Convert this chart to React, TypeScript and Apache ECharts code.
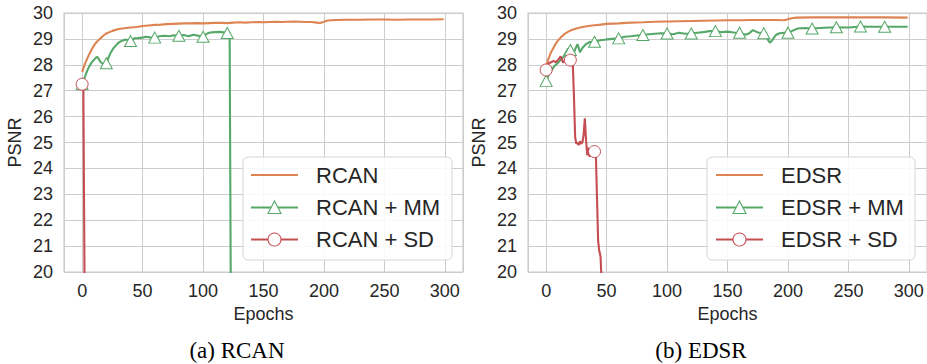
import React, { useEffect, useRef } from "react";
import * as echarts from "echarts";

// ---- data: [epoch, PSNR] ----
const rcanCurve: [number, number][] = [
  [0, 27.73], [2, 28.0], [4, 28.22], [6, 28.42], [8, 28.6], [10, 28.76], [12, 28.88], [15, 29.02], [18, 29.14],
  [20, 29.21], [25, 29.31], [30, 29.38], [35, 29.41], [40, 29.44], [45, 29.46], [50, 29.5], [55, 29.52], [60, 29.54],
  [65, 29.55], [70, 29.57], [75, 29.58], [80, 29.59], [85, 29.6], [90, 29.6], [95, 29.61], [100, 29.6], [105, 29.61],
  [110, 29.62], [115, 29.62], [120, 29.61], [125, 29.63], [130, 29.64], [135, 29.63], [140, 29.64], [145, 29.65],
  [150, 29.64], [155, 29.65], [160, 29.66], [165, 29.65], [170, 29.66], [175, 29.67], [180, 29.66], [185, 29.65],
  [190, 29.65], [194, 29.63], [197, 29.61], [200, 29.66], [203, 29.71], [206, 29.72], [210, 29.73], [220, 29.74],
  [230, 29.74], [240, 29.75], [250, 29.75], [260, 29.74], [270, 29.75], [280, 29.75], [290, 29.75], [299, 29.76],
];
const rcanMmCurve: [number, number][] = [
  [0, 27.25], [2, 27.5], [4, 27.75], [6, 27.95], [8, 28.1], [10, 28.2], [12, 28.3], [13, 28.28], [15, 28.12],
  [17, 28.04], [20, 28.06], [22, 28.3], [24, 28.5], [26, 28.65], [28, 28.75], [30, 28.85], [33, 28.93], [36, 28.98],
  [38, 28.95], [40, 28.92], [43, 29.02], [46, 29.03], [50, 29.05], [53, 29.08], [56, 29.06], [60, 29.05], [64, 29.1],
  [68, 29.12], [72, 29.1], [76, 29.14], [80, 29.12], [84, 29.15], [88, 29.1], [92, 29.16], [96, 29.12], [100, 29.08],
  [103, 29.2], [106, 29.25], [110, 29.26], [114, 29.27], [118, 29.25], [120, 29.23], [122, 29.25], [124, 8],
];
const rcanSdCurve: [number, number][] = [[0, 27.25], [1, 27.1], [2, 19.5], [3, 12]];

const edsrCurve: [number, number][] = [
  [0, 27.95], [2, 28.25], [4, 28.48], [6, 28.65], [8, 28.82], [10, 28.95], [12, 29.05], [15, 29.18], [18, 29.27],
  [20, 29.32], [25, 29.4], [30, 29.46], [35, 29.5], [40, 29.53], [45, 29.55], [50, 29.58], [60, 29.6], [70, 29.63],
  [80, 29.64], [90, 29.66], [100, 29.67], [110, 29.68], [120, 29.69], [130, 29.7], [140, 29.71], [150, 29.72],
  [160, 29.72], [170, 29.73], [180, 29.73], [190, 29.73], [197, 29.72], [200, 29.76], [203, 29.8], [207, 29.82],
  [220, 29.83], [240, 29.83], [260, 29.83], [280, 29.83], [299, 29.82],
];
const edsrMmCurve: [number, number][] = [
  [0, 27.38], [2, 27.6], [4, 27.75], [6, 27.9], [8, 28.0], [10, 28.08], [12, 28.2], [14, 28.28], [16, 28.45],
  [18, 28.62], [20, 28.57], [22, 28.35], [24, 28.6], [26, 28.8], [28, 28.48], [30, 28.65], [33, 28.8], [36, 28.88],
  [40, 28.89], [45, 28.95], [50, 28.98], [55, 29.0], [60, 29.02], [65, 29.08], [70, 29.1], [75, 29.13], [80, 29.15],
  [85, 29.18], [90, 29.2], [95, 29.22], [100, 29.21], [105, 29.18], [110, 29.24], [115, 29.2], [120, 29.21],
  [125, 29.24], [130, 29.26], [135, 29.3], [140, 29.3], [145, 29.26], [150, 29.28], [155, 29.25], [160, 29.24],
  [165, 29.16], [168, 29.22], [171, 29.34], [175, 29.25], [180, 29.22], [183, 29.0], [185, 28.85], [187, 28.95],
  [190, 29.15], [193, 29.22], [197, 29.24], [200, 29.24], [204, 29.32], [208, 29.4], [214, 29.42], [220, 29.4],
  [230, 29.43], [240, 29.45], [250, 29.44], [260, 29.48], [270, 29.47], [280, 29.47], [290, 29.47], [299, 29.47],
];
const edsrSdCurve: [number, number][] = [
  [0, 27.8], [2, 28.05], [4, 28.1], [6, 28.15], [8, 28.1], [10, 28.2], [12, 28.33], [14, 28.08], [16, 28.2],
  [18, 28.12], [20, 28.18], [22, 28.1], [23, 26.8], [24, 25.2], [25, 24.95], [26, 25.0], [27, 24.9], [28, 25.05],
  [29, 24.95], [30, 25.0], [31, 25.3], [32, 25.93], [33, 25.1], [34, 24.5], [35, 24.8], [36, 24.45], [37, 24.7],
  [38, 24.5], [39, 24.8], [40, 24.65], [41, 24.75], [42, 23.0], [43, 21.2], [44, 20.8], [45, 20.6], [46, 19.5], [47, 10],
];

const markerEpochs = [0, 20, 40, 60, 80, 100, 120, 140, 160, 180, 200, 220, 240, 260, 280];
const legendLeft = ["RCAN", "RCAN + MM", "RCAN + SD"];
const legendRight = ["EDSR", "EDSR + MM", "EDSR + SD"];
const captions = ["(a) RCAN", "(b) EDSR"];
const xAxisTitle = "Epochs";
const yAxisTitle = "PSNR";

const ORANGE = "#DD8452";
const GREEN = "#55A868";
const RED = "#C44E52";
const GRID = "#cccccc";
const TEXT = "#262626";
const SANS = '"Liberation Sans", Arial, sans-serif';
const SERIF = '"Liberation Serif", "DejaVu Serif", serif';

const GRIDS = [
  { left: 64, top: 13, width: 399, height: 259 },
  { left: 528, top: 13, width: 399, height: 259 },
];

function buildData(curve: [number, number][], symbol: string | null) {
  return curve.map(([e, v]) => ({
    value: [e, v],
    symbol: symbol && markerEpochs.includes(e) ? symbol : "none",
  }));
}

function lineSeries(g: number, curve: [number, number][], color: string, symbol: string | null, z: number) {
  return {
    type: "line",
    xAxisIndex: g,
    yAxisIndex: g,
    data: buildData(curve, symbol),
    showSymbol: true,
    showAllSymbol: true,
    symbol: "none",
    symbolSize: symbol === "triangle" ? [12, 11] : 12,
    lineStyle: { color, width: 2.1 },
    itemStyle: { color: "#ffffff", borderColor: color, borderWidth: 1 },
    silent: true,
    z,
    emphasis: { disabled: true },
  };
}

function legendGraphic(x: number, w: number, lineX1: number, lineX2: number, textX: number, labels: string[]) {
  const rows = [175, 207.5, 239.5];
  const colors = [ORANGE, GREEN, RED];
  const els: any[] = [
    {
      type: "rect",
      z: 100,
      shape: { x, y: 157, width: w, height: 103, r: 5 },
      style: { fill: "rgba(255,255,255,0.85)", stroke: "#d6d6d6", lineWidth: 1 },
    },
  ];
  const cx = (lineX1 + lineX2) / 2;
  rows.forEach((y, i) => {
    els.push({
      type: "line",
      z: 101,
      shape: { x1: lineX1, y1: y, x2: lineX2, y2: y },
      style: { stroke: colors[i], lineWidth: 2 },
    });
    if (i === 1) {
      els.push({
        type: "polygon",
        z: 102,
        shape: { points: [[cx - 6.5, y + 6], [cx, y - 6.5], [cx + 6.5, y + 6]] },
        style: { fill: "#ffffff", stroke: colors[i], lineWidth: 1.1 },
      });
    }
    if (i === 2) {
      els.push({
        type: "circle",
        z: 102,
        shape: { cx, cy: y, r: 6.5 },
        style: { fill: "#ffffff", stroke: colors[i], lineWidth: 1.1 },
      });
    }
    els.push({
      type: "text",
      z: 102,
      x: textX,
      y,
      style: { text: labels[i], font: `22px ${SANS}`, fill: TEXT, textVerticalAlign: "middle", textAlign: "left" },
    });
  });
  return els;
}

export default function App() {
  const ref = useRef<HTMLDivElement>(null);
  useEffect(() => {
    if (!ref.current) return;
    const chart = echarts.init(ref.current, null, { renderer: "svg" });
    const xAxes = GRIDS.map((_, g) => ({
      type: "value",
      gridIndex: g,
      min: -15,
      max: 315,
      splitNumber: 6,
      axisLine: { show: false },
      axisTick: { show: false },
      axisLabel: { showMinLabel: false, showMaxLabel: false, fontSize: 18, color: TEXT, fontFamily: SANS, margin: 10 },
      splitLine: { show: true, lineStyle: { color: GRID, width: 1 } },
      name: xAxisTitle,
      nameLocation: "middle",
      nameGap: 32,
      nameTextStyle: { fontSize: 18, color: TEXT, fontFamily: SANS },
    }));
    const yAxes = GRIDS.map((_, g) => ({
      type: "value",
      gridIndex: g,
      min: 20,
      max: 30,
      interval: 1,
      axisLine: { show: false },
      axisTick: { show: false },
      axisLabel: { fontSize: 18, color: TEXT, fontFamily: SANS, margin: 11 },
      splitLine: { show: true, lineStyle: { color: GRID, width: 1 } },
      name: yAxisTitle,
      nameLocation: "middle",
      nameGap: 40,
      nameRotate: 90,
      nameTextStyle: { fontSize: 18, color: TEXT, fontFamily: SANS },
    }));
    chart.setOption({
      animation: false,
      backgroundColor: "#ffffff",
      grid: GRIDS.map((g) => ({ ...g, show: true, borderColor: GRID, borderWidth: 1.2, backgroundColor: "transparent", containLabel: false })),
      xAxis: xAxes,
      yAxis: yAxes,
      series: [
        lineSeries(0, rcanCurve, ORANGE, null, 3),
        lineSeries(0, rcanMmCurve, GREEN, "triangle", 4),
        lineSeries(0, rcanSdCurve, RED, "circle", 5),
        lineSeries(1, edsrCurve, ORANGE, null, 3),
        lineSeries(1, edsrMmCurve, GREEN, "triangle", 4),
        lineSeries(1, edsrSdCurve, RED, "circle", 5),
      ],
      graphic: [
        ...legendGraphic(243, 209, 251, 298, 316, legendLeft),
        ...legendGraphic(707, 208, 716, 763, 781, legendRight),
        {
          type: "text",
          z: 102,
          x: 237,
          y: 350,
          style: { text: captions[0], font: `23px ${SERIF}`, fill: "#000", textAlign: "center", textVerticalAlign: "middle" },
        },
        {
          type: "text",
          z: 102,
          x: 701,
          y: 350,
          style: { text: captions[1], font: `23px ${SERIF}`, fill: "#000", textAlign: "center", textVerticalAlign: "middle" },
        },
      ],
    });
    return () => chart.dispose();
  }, []);
  return <div ref={ref} style={{ position: "absolute", left: 0, top: 0, width: 927, height: 364 }} />;
}
